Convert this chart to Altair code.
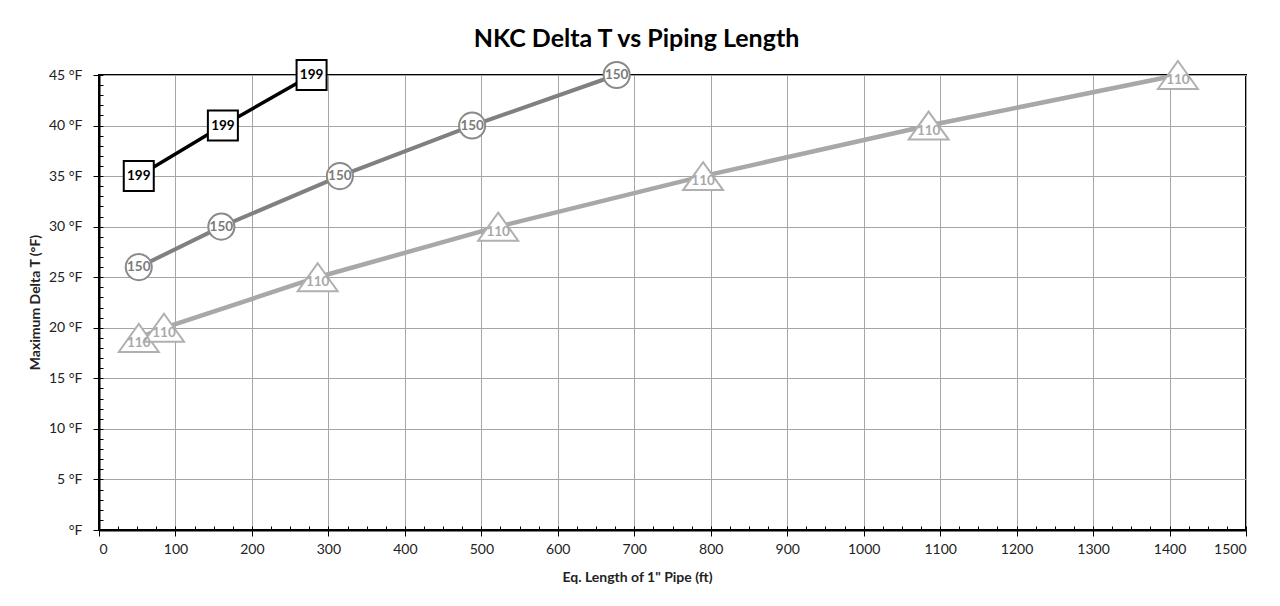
import altair as alt
import pandas as pd

# ---- data ----
series_names = ["199", "150", "110"]
x_199 = [52, 162, 278]
y_199 = [35, 40, 45]
x_150 = [52, 160, 315, 488, 677]
y_150 = [26, 30, 35, 40, 45]
x_110 = [52, 85, 286, 522, 790, 1085, 1411]
y_110 = [19, 20, 25, 30, 35, 40, 45]

x_ticks = list(range(0, 1501, 100))
y_ticks = list(range(0, 46, 5))
x_minor = list(range(0, 1501, 25))
y_minor = list(range(0, 46, 1))

line_colors = {"199": "#000000", "150": "#808080", "110": "#a8a8a8"}
text_colors = {"199": "#000000", "150": "#7a7a7a", "110": "#a8a8a8"}

def frame(name, xs, ys):
    return pd.DataFrame({"series": name, "x": xs, "y": ys, "order": list(range(len(xs)))})

dfs = {
    "199": frame("199", x_199, y_199),
    "150": frame("150", x_150, y_150),
    "110": frame("110", x_110, y_110),
}

FONT = "Lato"
W, H = 1147, 455

x_scale = alt.Scale(domain=[0, 1500], nice=False, zero=False)
y_scale = alt.Scale(domain=[0, 45], nice=False)

x_axis = alt.Axis(
    values=x_ticks, grid=True, gridColor="#a6a6a6", gridWidth=1,
    domainColor="black", domainWidth=2, tickColor="black", tickSize=6,
    labelFontSize=14, labelFont=FONT, labelColor="#222", labelPadding=6,
    labelExpr="'' + datum.value",
    title='Eq. Length of 1" Pipe (ft)', titleFont=FONT, titleFontSize=14,
    titleFontWeight="bold", titleColor="#222", titleX=538, titleY=40,
    titleBaseline="top",
)
y_axis = alt.Axis(
    values=y_ticks, grid=True, gridColor="#a6a6a6", gridWidth=1,
    domainColor="black", domainWidth=2, tickColor="black", tickSize=6,
    labelFontSize=14, labelFont=FONT, labelColor="#222", labelPadding=11,
    labelExpr="datum.value == 0 ? '°F' : datum.value + ' °F'",
    title="Maximum Delta T (°F)", titleFont=FONT, titleFontSize=14,
    titleFontWeight="bold", titleColor="#222", titleX=-57, titleY=227,
    titleAngle=-90, titleBaseline="bottom",
)

X = alt.X("x:Q", scale=x_scale, axis=x_axis)
Y = alt.Y("y:Q", scale=y_scale, axis=y_axis)

layers = []
# lines
for name, width in [("110", 4.5), ("150", 4), ("199", 3.5)]:
    layers.append(
        alt.Chart(dfs[name]).mark_line(color=line_colors[name], strokeWidth=width)
        .encode(x=X, y=Y, order="order:Q")
    )
# markers + labels
marker_specs = {
    "110": dict(shape="M0,-0.7L1,0.7L-1,0.7Z", size=1600, stroke="#b0b0b0", dy=5),
    "150": dict(shape="circle", size=680, stroke="#8a8a8a", dy=0),
    "199": dict(shape="square", size=900, stroke="#000000", dy=0),
}
for name in ["110", "150", "199"]:
    spec = marker_specs[name]
    layers.append(
        alt.Chart(dfs[name]).mark_point(
            shape=spec["shape"], size=spec["size"], filled=True, fill="white",
            stroke=spec["stroke"], strokeWidth=2, opacity=1,
        ).encode(x=X, y=Y)
    )
    layers.append(
        alt.Chart(dfs[name]).mark_text(
            font=FONT, fontSize=13.5, fontWeight="bold", color=text_colors[name],
            dy=spec["dy"], baseline="middle", align="center",
        ).encode(x=X, y=Y, text="series:N")
    )

main = alt.layer(*layers)

# minor ticks: extra axes on the same scales, pointing inward
minor = alt.Chart(dfs["110"]).mark_point(opacity=0).encode(
    x=alt.X("x:Q", scale=x_scale, axis=alt.Axis(
        orient="top", offset=-H, values=x_minor, labels=False, domain=False,
        grid=False, ticks=True, tickSize=4, tickColor="black", title=None)),
    y=alt.Y("y:Q", scale=y_scale, axis=alt.Axis(
        orient="right", offset=-W, values=y_minor, labels=False, domain=False,
        grid=False, ticks=True, tickSize=4, tickColor="black", title=None)),
)

chart = (
    alt.layer(main, minor)
    .resolve_axis(x="independent", y="independent")
    .properties(
        width=W, height=H,
        autosize=alt.AutoSizeParams(type="none"),
        padding={"left": 91, "top": 67, "right": 20, "bottom": 60},
        title=alt.TitleParams(
            "NKC Delta T vs Piping Length", font=FONT, fontSize=25,
            fontWeight="bold", color="black", dx=-36, offset=4, anchor="middle",
        ),
        background="white",
    )
    .configure_view(stroke="black", strokeWidth=2)
)

chart.save("out.html", embed_options={"renderer": "svg", "actions": False})
